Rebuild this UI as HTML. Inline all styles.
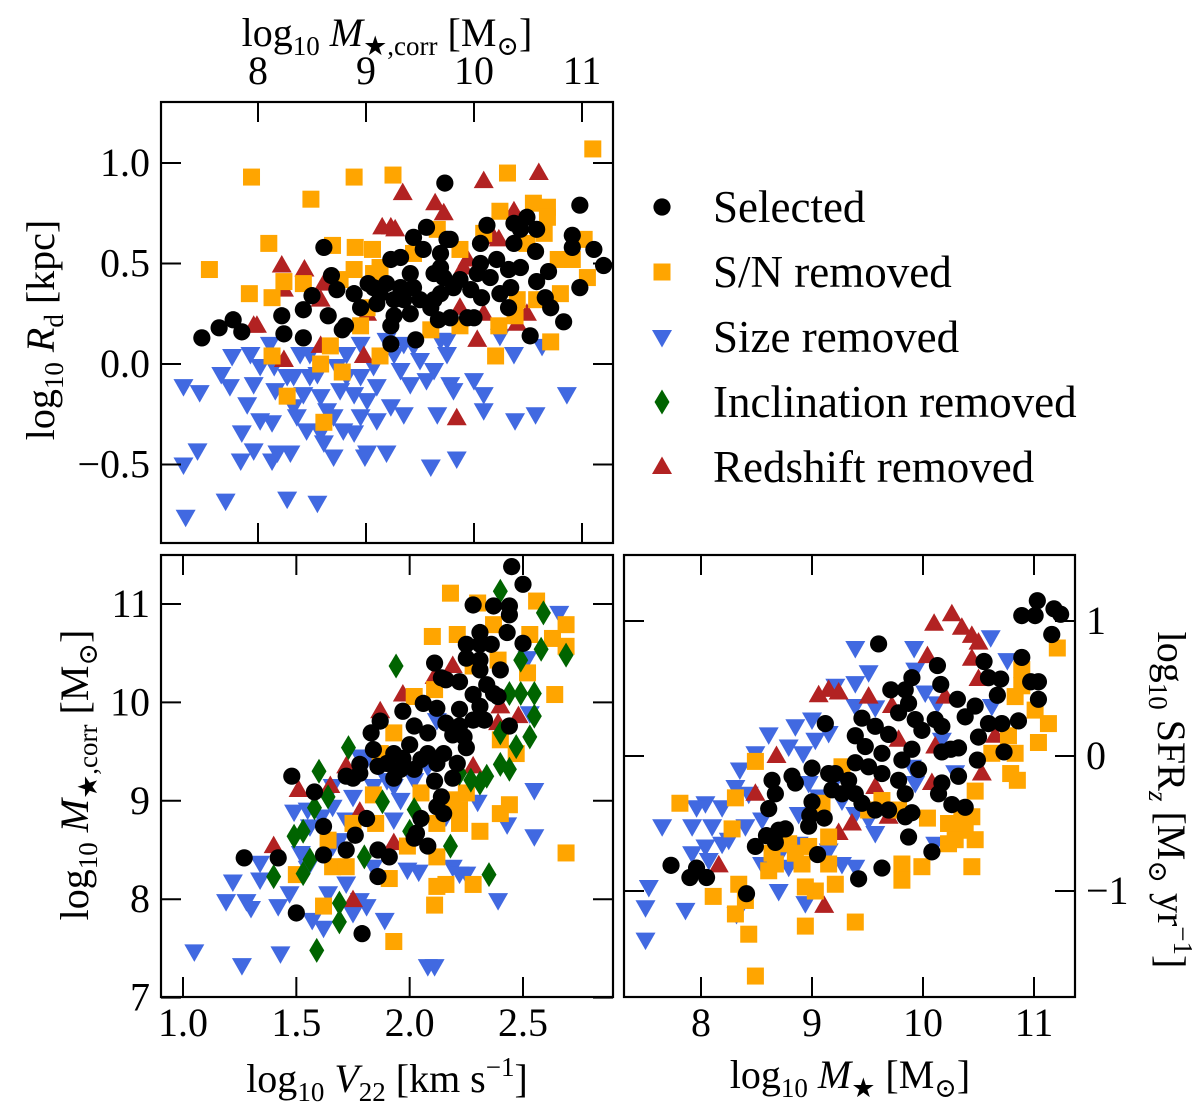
<!DOCTYPE html>
<html><head><meta charset="utf-8"><style>
html,body{margin:0;padding:0;background:#fff;}
svg{display:block;font-family:"Liberation Serif","DejaVu Serif",serif;}
</style></head><body>
<svg id="fig" width="1200" height="1103" viewBox="0 0 1200 1103" xmlns="http://www.w3.org/2000/svg"></svg>
<script>
// ---------- DATA ----------
// Panel A: x = log10 M*,corr ; y = log10 Rd
const aSelX=[7.48,7.64,7.77,7.85,8.22,8.24,8.42,8.42,8.50,8.61,8.65,8.68,8.78,8.81,8.73,8.89,8.95,9.02,9.10,9.23,9.23,9.26,9.32,9.35,9.41,9.44,9.46,9.53,9.56,9.63,9.67,9.69,9.73,9.75,9.78,9.81,9.78,9.94,10.00,9.97,10.06,10.07,10.12,10.06,10.21,10.24,10.32,10.34,10.32,10.37,10.37,10.43,10.49,10.43,10.58,10.57,10.58,10.66,10.69,10.71,10.83,10.52,10.91,10.91,10.98,10.98,11.11,11.20,9.26,9.44,9.07,9.19,9.60,9.69,9.72,9.87,10.15,9.13,9.32,9.50,9.63,9.69,9.41,9.23,10.03];
const aSelY=[0.13,0.18,0.22,0.16,0.24,0.15,0.13,0.27,0.34,0.58,0.24,0.44,0.17,0.19,0.37,0.35,0.28,0.40,0.30,0.52,0.10,0.24,0.53,0.32,0.45,0.63,0.12,0.57,0.68,0.32,0.22,0.48,0.90,0.62,0.62,0.38,0.23,0.23,0.23,0.37,0.60,0.33,0.69,0.50,0.52,0.35,0.28,0.38,0.47,0.60,0.70,0.48,0.73,0.67,0.67,0.56,0.41,0.33,0.46,0.28,0.21,0.14,0.64,0.58,0.79,0.38,0.57,0.49,0.32,0.38,0.38,0.40,0.28,0.35,0.43,0.42,0.43,0.35,0.38,0.32,0.45,0.55,0.25,0.19,0.45];
const aSnX=[7.94,8.89,9.25,10.31,11.10,8.49,8.10,7.55,7.92,8.13,8.24,8.42,8.69,8.90,9.06,8.89,9.07,9.13,8.76,9.66,10.09,10.24,10.55,10.68,10.68,11.02,11.05,10.80,10.58,10.78,10.91,10.40,10.38,10.23,9.87,9.60,10.71,10.20,9.13,8.58,8.78,8.13,8.27,8.61,8.67,8.95,9.01,9.44,9.87,10.65,10.49];
const aSnY=[0.93,0.93,0.94,0.95,1.07,0.82,0.60,0.47,0.35,0.33,0.41,0.40,0.59,0.58,0.57,0.47,0.45,0.48,0.42,0.67,0.65,0.76,0.80,0.78,0.73,0.62,0.43,0.35,0.32,0.52,0.52,0.32,0.24,0.19,0.19,0.17,0.11,0.04,0.04,0.00,-0.04,0.04,-0.16,-0.29,0.09,0.19,0.28,0.55,0.57,0.65,0.60];
const aSizeX=[7.31,7.46,7.31,7.44,7.33,7.70,7.66,7.74,7.76,7.90,7.84,7.96,7.93,8.02,7.96,8.11,8.15,8.16,8.13,8.13,8.18,8.27,8.30,8.33,8.33,8.39,8.42,8.45,8.48,8.55,8.58,8.61,8.64,8.70,8.73,8.76,8.79,8.89,8.95,8.95,8.99,9.01,9.07,9.10,9.19,9.23,9.19,9.32,9.35,9.41,9.50,9.60,9.63,9.66,9.69,9.75,9.78,9.81,9.84,10.00,10.09,10.09,10.24,10.37,10.38,10.57,10.63,10.86,8.95,8.82,8.55,8.36,8.02,8.70,9.10,9.26,9.44,8.48,8.27,7.85,8.89,9.01,8.58,8.82,9.35,9.75,9.56];
const aSizeY=[-0.11,-0.14,-0.50,-0.43,-0.76,-0.68,-0.05,-0.11,0.04,-0.20,-0.48,-0.43,0.05,-0.01,-0.10,0.10,-0.01,-0.13,-0.29,-0.48,-0.44,-0.67,-0.44,-0.21,-0.06,0.05,-0.15,-0.33,-0.06,-0.69,-0.16,-0.39,-0.23,-0.46,-0.01,-0.13,-0.33,-0.15,-0.26,-0.06,-0.46,-0.44,-0.01,-0.28,0.12,-0.21,-0.44,-0.03,-0.25,-0.10,0.02,-0.51,-0.03,-0.25,0.12,0.05,-0.10,-0.13,-0.47,-0.08,-0.15,-0.23,0.14,0.05,-0.28,-0.25,0.09,-0.15,0.10,0.05,-0.05,-0.26,-0.28,-0.26,-0.11,0.05,0.09,0.05,-0.06,-0.34,-0.34,-0.18,-0.34,-0.06,0.10,0.12,-0.08];
const aRedX=[9.34,9.64,9.72,10.09,10.60,9.15,9.23,9.27,8.22,8.43,7.96,7.99,8.61,8.58,9.94,9.90,10.18,10.23,10.37,10.03,9.84,10.40,10.49,9.87,10.09,8.24,9.01,8.98,8.24,8.58];
const aRedY=[0.85,0.80,0.75,0.91,0.95,0.68,0.68,0.67,0.49,0.47,0.19,0.19,0.40,0.32,0.52,0.48,0.63,0.62,0.76,0.12,-0.27,0.20,0.25,0.28,0.25,0.37,0.25,0.04,0.02,0.09];

// Panel B: x = log10 V22 ; y = log10 M*,corr
const bSelX=[2.45,2.50,2.28,2.37,2.44,2.44,2.43,2.31,2.50,2.25,2.31,2.36,2.25,2.31,2.31,2.40,2.11,2.14,2.16,2.22,2.34,2.37,2.28,2.39,2.06,2.12,1.97,2.22,2.31,1.87,2.16,2.22,2.28,2.33,2.44,2.02,1.83,2.08,2.19,2.24,2.00,1.84,1.93,2.08,2.15,2.25,1.78,1.86,1.97,2.05,2.12,2.21,1.72,1.75,1.78,1.93,2.02,2.11,2.19,1.48,1.58,2.14,2.12,2.15,1.81,2.05,1.62,1.76,2.03,2.02,2.08,1.27,1.42,1.62,1.72,1.86,1.91,1.86,1.50,1.79,1.90,1.96];
const bSelY=[11.38,11.20,10.99,10.98,10.98,10.89,10.71,10.71,10.60,10.59,10.59,10.59,10.45,10.43,10.33,10.33,10.40,10.25,10.23,10.21,10.18,10.09,10.08,10.06,9.99,9.94,9.91,9.93,9.96,9.81,9.79,9.76,9.82,9.82,9.76,9.76,9.69,9.69,9.67,9.65,9.57,9.52,9.48,9.48,9.48,9.54,9.37,9.35,9.43,9.42,9.38,9.38,9.25,9.23,9.28,9.23,9.32,9.20,9.23,9.25,9.09,9.04,8.94,8.87,8.82,8.82,8.74,8.65,8.67,8.62,8.54,8.42,8.42,8.45,8.50,8.50,8.43,8.23,7.86,7.65,9.38,9.32];
const bSnX=[2.18,2.56,2.30,2.69,2.10,2.21,2.37,2.53,2.63,2.69,2.52,2.64,2.28,2.39,2.02,2.11,1.93,1.87,1.84,1.75,1.85,1.64,1.66,1.72,1.50,1.91,1.99,2.12,2.12,2.22,2.19,2.22,2.31,2.40,2.44,2.47,2.40,2.12,2.16,2.28,2.11,1.62,1.93,2.69,2.25,2.05];
const bSnY=[11.11,11.03,11.01,10.79,10.67,10.69,10.79,10.69,10.65,10.57,10.30,10.08,10.37,10.43,10.06,10.13,9.69,9.48,9.06,8.77,8.77,8.60,8.33,8.33,8.25,8.21,8.54,8.77,8.43,8.91,9.01,8.77,8.69,8.87,8.96,9.48,9.62,8.13,8.15,8.15,7.94,7.93,7.57,8.47,9.08,9.08];
const bSizeX=[1.05,1.26,1.43,1.19,1.22,1.28,1.30,1.34,1.34,1.42,1.47,1.49,1.52,1.55,1.57,1.62,1.64,1.66,1.66,1.72,1.72,1.75,1.78,1.81,1.84,1.89,1.90,1.93,1.96,1.99,2.04,2.08,2.11,2.19,2.22,2.30,2.39,2.43,2.55,2.55,2.53,2.66,2.52,2.12,1.78,1.84,1.61,1.66,1.75,2.08,2.16,2.25,1.56,1.93,2.02,1.69,1.55,1.81];
const bSizeY=[7.47,7.33,7.45,7.98,8.18,7.98,7.91,8.20,8.37,7.93,8.06,8.89,8.47,8.32,7.79,7.71,8.06,8.54,8.94,8.81,8.16,7.86,7.99,7.93,8.33,7.79,9.21,8.81,9.01,8.30,8.28,7.32,7.32,8.33,8.26,8.99,7.99,8.76,8.64,9.11,9.89,10.91,10.45,9.82,9.45,9.15,8.84,9.15,9.04,9.35,8.84,8.26,8.74,9.15,9.21,8.60,8.91,9.42];
const bIncX=[2.40,2.59,2.58,2.69,2.49,2.44,2.49,2.55,2.55,2.53,2.40,2.47,2.40,2.44,2.34,2.27,2.31,1.94,1.73,1.60,1.64,1.58,1.49,1.53,1.40,1.53,1.56,1.69,1.69,1.59,1.80,1.88,2.00,2.18,2.35,2.02,2.22];
const bIncY=[11.13,10.91,10.54,10.48,10.43,10.09,10.09,10.09,9.86,9.65,9.69,9.55,9.37,9.32,9.25,9.21,9.18,10.37,9.54,9.30,9.04,8.93,8.64,8.69,8.23,8.26,8.40,7.96,7.77,7.48,8.43,8.99,8.69,8.54,8.25,8.91,9.28];
const bRedX=[2.19,2.11,1.97,1.87,2.40,2.48,2.39,1.72,1.51,1.40,1.75,1.93,1.78,2.28,1.65];
const bRedY=[10.37,10.26,10.08,9.91,9.96,9.86,9.79,9.35,9.11,8.54,7.99,8.57,8.89,9.35,9.15];

// Panel C: x = log10 M* ; y = log10 SFR_z
const cSelX=[11.03,10.89,11.01,11.18,11.24,11.16,10.89,9.60,10.13,10.16,10.55,10.59,10.70,10.67,10.97,11.04,11.04,10.86,10.71,10.59,10.50,10.47,10.38,10.31,10.49,10.73,10.32,10.17,10.25,9.90,9.84,9.71,9.78,9.87,9.93,9.99,10.11,10.17,9.45,9.39,9.57,9.69,9.48,9.63,9.81,9.90,9.96,9.39,9.51,9.63,9.78,9.84,9.90,9.21,9.18,9.33,9.39,9.45,9.57,9.69,9.84,9.87,10.08,10.17,10.32,10.14,10.26,10.38,9.00,9.15,9.12,8.85,8.82,8.67,8.64,8.61,9.00,8.98,9.11,8.97,8.70,8.76,8.59,8.67,8.49,9.05,9.42,9.63,7.73,7.90,7.96,8.05,8.41,9.27];
const cSelY=[1.15,1.04,1.04,1.09,1.05,0.90,0.73,0.83,0.67,0.53,0.70,0.58,0.57,0.45,0.55,0.55,0.42,0.26,0.24,0.24,0.14,0.37,0.29,0.42,-0.03,0.03,0.06,0.03,0.05,0.58,0.49,0.49,0.32,0.39,0.27,0.19,0.27,0.22,0.28,0.15,0.22,0.16,0.07,0.02,-0.03,0.05,-0.10,-0.05,-0.08,-0.13,-0.18,-0.28,-0.42,-0.13,-0.25,-0.18,-0.28,-0.35,-0.40,-0.40,-0.45,-0.60,-0.71,-0.20,-0.15,-0.28,-0.36,-0.38,-0.09,-0.13,0.24,-0.20,-0.15,-0.28,-0.18,-0.39,-0.34,-0.44,-0.46,-0.52,-0.55,-0.54,-0.59,-0.64,-0.67,-0.73,-0.91,-0.83,-0.81,-0.90,-0.83,-0.90,-1.02,-0.28];
const cSnX=[11.21,10.89,10.89,10.83,11.01,11.13,11.04,10.77,10.83,10.85,10.79,10.62,10.47,10.44,10.35,10.23,10.38,10.29,10.47,10.23,10.44,9.99,9.81,9.81,10.04,9.78,9.63,9.51,9.27,9.09,9.15,9.15,9.21,9.03,8.94,8.94,9.39,8.79,8.85,8.91,8.67,8.61,8.34,8.40,8.11,8.31,8.43,8.49,7.81,8.31,8.49,8.28,8.64,8.97];
const cSnY=[0.80,0.64,0.52,0.44,0.34,0.24,0.10,0.15,0.02,-0.18,-0.13,0.02,-0.26,-0.45,-0.47,-0.50,-0.55,-0.62,-0.62,-0.65,-0.82,-0.82,-0.80,-0.92,-0.46,-0.40,-0.33,-0.40,-0.08,-0.35,-0.60,-0.80,-0.95,-1.00,-0.97,-1.26,-1.23,-0.65,-0.72,-0.80,-0.80,-0.85,-0.95,-1.07,-1.04,-1.17,-1.32,-1.63,-0.35,-0.31,-0.04,-0.54,-0.72,-0.67];
const cSizeX=[9.39,9.92,10.61,10.76,9.51,9.93,9.21,9.39,10.02,10.13,9.57,9.39,9.00,8.85,8.61,9.15,9.03,8.79,8.92,8.49,8.35,8.31,8.43,8.04,7.96,8.19,7.92,8.10,7.65,8.19,8.04,8.25,8.40,8.55,8.88,9.06,9.21,9.27,9.39,9.51,9.57,9.15,9.27,8.88,8.73,8.70,8.94,8.32,7.86,7.53,7.50,7.50,7.92,9.39,9.93,9.90,10.11,10.29,10.62,10.17,8.79,8.97,8.55,8.07];
const cSizeY=[0.80,0.80,0.88,0.71,0.62,0.64,0.52,0.54,0.47,0.39,0.36,0.37,0.27,0.22,0.16,0.17,0.12,0.07,0.02,0.02,-0.10,-0.23,-0.28,-0.35,-0.38,-0.38,-0.52,-0.52,-0.52,-0.65,-0.67,-0.62,-0.52,-0.47,-0.43,-0.30,-0.18,-0.33,-0.43,-0.47,-0.57,-0.70,-0.80,-0.65,-0.70,-1.00,-1.09,-1.17,-1.14,-0.97,-1.12,-1.36,-0.72,-0.82,-0.20,-0.08,-0.65,-0.12,0.37,0.12,-0.82,-0.20,-0.80,-0.77];
const cRedX=[10.26,10.10,10.35,10.44,10.50,10.04,10.44,10.50,9.06,9.15,9.24,9.51,9.72,10.20,9.78,10.11,10.53,10.08,10.65,8.68,8.49,9.36,9.24,9.11,8.16,9.69,9.57];
const cRedY=[1.05,0.98,0.95,0.89,0.84,0.74,0.72,0.57,0.45,0.49,0.47,0.44,0.37,0.44,0.12,0.07,-0.13,-0.20,0.15,0.00,-0.28,-0.50,-0.57,-1.11,-0.81,-0.45,-0.23];

// Tick values
const aTopTicks=[8,9,10,11];
const aYTicks=[1.0,0.5,0.0,-0.5];
const aYTickLabels=["1.0","0.5","0.0","\u22120.5"];
const bXTicks=[1.0,1.5,2.0,2.5];
const bXTickLabels=["1.0","1.5","2.0","2.5"];
const bYTicks=[11,10,9,8,7];
const cXTicks=[8,9,10,11];
const cYTicks=[1,0,-1];
const cYTickLabels=["1","0","\u22121"];
const legendLabels=["Selected","S/N removed","Size removed","Inclination removed","Redshift removed"];

// ---------- DRAWING ----------
const NS="http://www.w3.org/2000/svg";
const svg=document.getElementById('fig');
const COL={sel:"#000000",sn:"#FFA500",size:"#4169E1",inc:"#006400",red:"#B22222"};
const TICKFS=40;

function mk(tag,attrs,parent){const e=document.createElementNS(NS,tag);for(const k in attrs)e.setAttribute(k,attrs[k]);(parent||svg).appendChild(e);return e;}
function lin(d0,d1,p0,p1){return v=>p0+(v-d0)/(d1-d0)*(p1-p0);}

const PA={x0:161,x1:613,y0:102,y1:543, sx:lin(8,11,258,582), sy:lin(0,1,364,163)};
const PB={x0:161,x1:613,y0:555,y1:997, sx:lin(1,2.5,183,523), sy:lin(7,11,997.6,604)};
const PC={x0:624,x1:1075,y0:555,y1:997, sx:lin(8,11,701,1034), sy:lin(0,1,756,621)};

function marker(g,kind,x,y){
  let e;
  if(kind==='sel'){e=mk('circle',{cx:x,cy:y,r:8.6,fill:COL.sel},g);}
  else if(kind==='sn'){e=mk('rect',{x:x-8.5,y:y-8.5,width:17,height:17,fill:COL.sn},g);}
  else if(kind==='size'){e=mk('polygon',{points:`${x-10},${y-7} ${x+10},${y-7} ${x},${y+10.5}`,fill:COL.size},g);}
  else if(kind==='inc'){e=mk('polygon',{points:`${x},${y-12.5} ${x+7.5},${y} ${x},${y+12.5} ${x-7.5},${y}`,fill:COL.inc},g);}
  else {e=mk('polygon',{points:`${x-10},${y+7} ${x+10},${y+7} ${x},${y-10.5}`,fill:COL.red},g);}
  return e;
}
function series(P,clip,kind,xs,ys,name){
  const g=mk('g',{'clip-path':`url(#${clip})`});
  
  
  for(let i=0;i<xs.length;i++){
    const m=marker(g,kind,P.sx(xs[i]),P.sy(ys[i]));
    
    
  }
}
const defs=mk('defs',{});
[['clipA',PA],['clipB',PB],['clipC',PC]].forEach(([id,P])=>{const c=mk('clipPath',{id:id},defs);mk('rect',{x:P.x0,y:P.y0,width:P.x1-P.x0,height:P.y1-P.y0},c);});

function frame(P,name){
  const r=mk('rect',{x:P.x0,y:P.y0,width:P.x1-P.x0,height:P.y1-P.y0,fill:'none',stroke:'#000','stroke-width':2.2});
  
  
}
function xticks(P,vals,len){vals.forEach(v=>{const x=P.sx(v);
  const t1=mk('line',{x1:x,y1:P.y1,x2:x,y2:P.y1-len,stroke:'#000','stroke-width':2});
  
  const t2=mk('line',{x1:x,y1:P.y0,x2:x,y2:P.y0+len,stroke:'#000','stroke-width':2});
  });}
function yticks(P,vals,len){vals.forEach(v=>{const y=P.sy(v);
  const t1=mk('line',{x1:P.x0,y1:y,x2:P.x0+len,y2:y,stroke:'#000','stroke-width':2});
  
  const t2=mk('line',{x1:P.x1,y1:y,x2:P.x1-len,y2:y,stroke:'#000','stroke-width':2});
  });}
function txt(x,y,s,anchor,name,size){
  const t=mk('text',{x:x,y:y,'text-anchor':anchor||'middle','font-size':size||TICKFS,fill:'#000'});
  t.textContent=s;
  
  
  return t;
}

// Panel A
series(PA,'clipA','size',aSizeX,aSizeY,'size-removed-series-a');
series(PA,'clipA','red',aRedX,aRedY,'redshift-removed-series-a');
series(PA,'clipA','sn',aSnX,aSnY,'sn-removed-series-a');
series(PA,'clipA','sel',aSelX,aSelY,'selected-series-a');
frame(PA,'panel-rd-frame');
xticks(PA,aTopTicks,20); yticks(PA,aYTicks,20);
aTopTicks.forEach(v=>txt(PA.sx(v),84,String(v),'middle','top-x-tick-label'));
aYTicks.forEach((v,i)=>txt(150,PA.sy(v)+13,aYTickLabels[i],'end','y-tick-label'));

// Panel B
series(PB,'clipB','size',bSizeX,bSizeY,'size-removed-series-b');
series(PB,'clipB','red',bRedX,bRedY,'redshift-removed-series-b');
series(PB,'clipB','sn',bSnX,bSnY,'sn-removed-series-b');
series(PB,'clipB','inc',bIncX,bIncY,'inclination-removed-series-b');
series(PB,'clipB','sel',bSelX,bSelY,'selected-series-b');
frame(PB,'panel-mass-velocity-frame');
xticks(PB,bXTicks,20); yticks(PB,bYTicks,20);
bXTicks.forEach((v,i)=>txt(PB.sx(v),1036,bXTickLabels[i],'middle','x-tick-label'));
bYTicks.forEach(v=>txt(150,PB.sy(v)+13,String(v),'end','y-tick-label'));

// Panel C
series(PC,'clipC','size',cSizeX,cSizeY,'size-removed-series-c');
series(PC,'clipC','red',cRedX,cRedY,'redshift-removed-series-c');
series(PC,'clipC','sn',cSnX,cSnY,'sn-removed-series-c');
series(PC,'clipC','sel',cSelX,cSelY,'selected-series-c');
frame(PC,'panel-sfr-mass-frame');
xticks(PC,cXTicks,20); yticks(PC,cYTicks,20);
cXTicks.forEach(v=>txt(PC.sx(v),1036,String(v),'middle','x-tick-label'));
cYTicks.forEach((v,i)=>txt(1086,PC.sy(v)+13,cYTickLabels[i],'start','right-y-tick-label'));

// Legend
const kinds=['sel','sn','size','inc','red'];
const lg=mk('g',{});


kinds.forEach((k,i)=>{
  const y=207+i*65;
  const g=mk('g',{},lg);
  
  
  marker(g,k,662,y);
  const t=mk('text',{x:713,y:y+15,'font-size':45,fill:'#000'},g);
  t.textContent=legendLabels[i];
});
</script>
<!-- axis titles -->
<svg width="1200" height="1103" style="position:absolute;left:0;top:0;font-family:'Liberation Serif','DejaVu Serif',serif">
<text x="387" y="46" text-anchor="middle" font-size="40">log<tspan font-size="27" dy="9">10</tspan><tspan dy="-9"> </tspan><tspan font-style="italic">M</tspan><tspan font-size="27" dy="9">★,corr</tspan><tspan dy="-9"> [M</tspan><tspan font-size="27" dy="9">⊙</tspan><tspan dy="-9">]</tspan></text>
<text transform="translate(54,330) rotate(-90)" text-anchor="middle" font-size="40">log<tspan font-size="27" dy="9">10</tspan><tspan dy="-9"> </tspan><tspan font-style="italic">R</tspan><tspan font-size="27" dy="9">d</tspan><tspan dy="-9"> [kpc]</tspan></text>
<text transform="translate(88,775) rotate(-90)" text-anchor="middle" font-size="40">log<tspan font-size="27" dy="9">10</tspan><tspan dy="-9"> </tspan><tspan font-style="italic">M</tspan><tspan font-size="27" dy="9">★,corr</tspan><tspan dy="-9"> [M</tspan><tspan font-size="27" dy="9">⊙</tspan><tspan dy="-9">]</tspan></text>
<text x="387" y="1092" text-anchor="middle" font-size="40">log<tspan font-size="27" dy="9">10</tspan><tspan dy="-9"> </tspan><tspan font-style="italic">V</tspan><tspan font-size="27" dy="9">22</tspan><tspan dy="-9"> [km s</tspan><tspan font-size="27" dy="-16">−1</tspan><tspan dy="16">]</tspan></text>
<text x="850" y="1088" text-anchor="middle" font-size="40">log<tspan font-size="27" dy="9">10</tspan><tspan dy="-9"> </tspan><tspan font-style="italic">M</tspan><tspan font-size="27" dy="9">★</tspan><tspan dy="-9"> [M</tspan><tspan font-size="27" dy="9">⊙</tspan><tspan dy="-9">]</tspan></text>
<text transform="translate(1158,800) rotate(90)" text-anchor="middle" font-size="40">log<tspan font-size="27" dy="9">10</tspan><tspan dy="-9"> SFR</tspan><tspan font-size="27" dy="9" font-style="italic">z</tspan><tspan dy="-9"> [M</tspan><tspan font-size="27" dy="9">⊙</tspan><tspan dy="-9"> yr</tspan><tspan font-size="27" dy="-16">−1</tspan><tspan dy="16">]</tspan></text>
</svg>
</body></html>
